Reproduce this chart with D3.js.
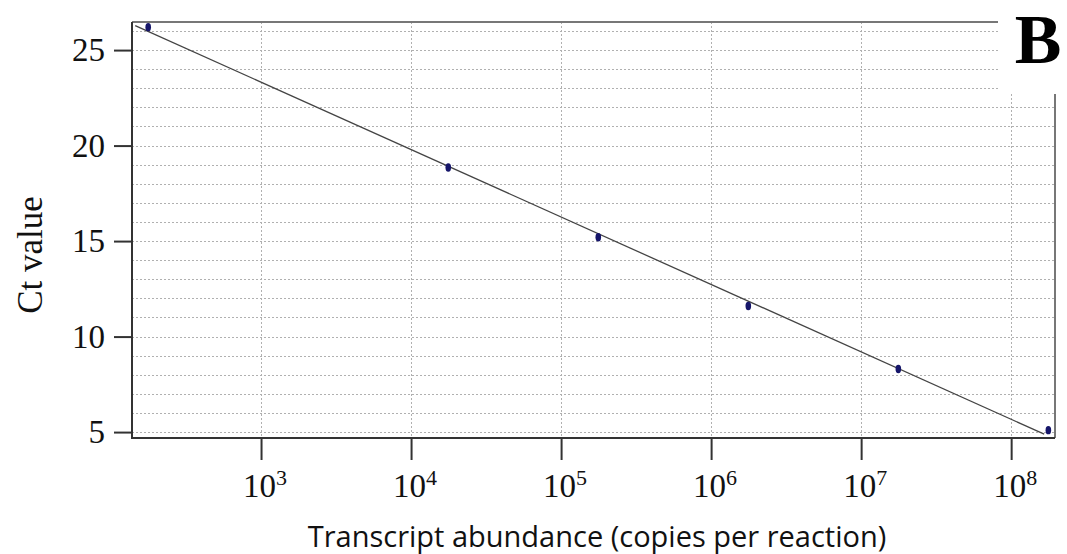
<!DOCTYPE html>
<html>

<head>
    <meta charset="utf-8">
    <title>Standard curve</title>
    <script src="https://d3js.org/d3.v7.min.js"></script>
    <style>
        body { margin: 0; background: #fff; }
    </style>
</head>

<body>
    <script>
        // data
        const copies = [177, 17700, 177000, 1770000, 17700000, 177000000];
        const ctValues = [26.2, 18.85, 15.2, 11.6, 8.3, 5.1];
        const xTicks = [1e3, 1e4, 1e5, 1e6, 1e7, 1e8];
        const yTicks = [5, 10, 15, 20, 25];
        const yGrid = d3.range(5, 27);
        const fitRange = [145, 166000000];

        const msm = {
            width: 1067,
            height: 554,
            left: 132,
            right: 1055,
            top: 22,
            bottom: 438
        }

        let svg = d3.select('body')
            .append('svg')
            .attr('width', msm.width)
            .attr('height', msm.height)

        let x = d3.scaleLog()
            .domain([138, 196000000])
            .range([msm.left, msm.right]);

        let y = d3.scaleLinear()
            .domain([4.69, 26.47])
            .range([msm.bottom, msm.top]);

        // grid
        let grid = svg.append('g')
            .attr('stroke', '#b0b0b0')
            .attr('stroke-width', 1)
            .attr('stroke-dasharray', '2,2');

        grid.selectAll('.hg')
            .data(yGrid)
            .enter()
            .append('line')
            .attr('x1', msm.left)
            .attr('x2', msm.right)
            .attr('y1', d => Math.round(y(d)) + 0.5)
            .attr('y2', d => Math.round(y(d)) + 0.5);

        grid.selectAll('.vg')
            .data(xTicks)
            .enter()
            .append('line')
            .attr('y1', msm.top)
            .attr('y2', msm.bottom)
            .attr('x1', d => Math.round(x(d)) + 0.5)
            .attr('x2', d => Math.round(x(d)) + 0.5);

        // least squares fit on log10(copies)
        let lx = copies.map(d => Math.log10(d));
        let mx = d3.mean(lx), my = d3.mean(ctValues);
        let sxy = d3.sum(lx, (d, i) => (d - mx) * (ctValues[i] - my));
        let sxx = d3.sum(lx, d => (d - mx) * (d - mx));
        let slope = sxy / sxx;
        let intercept = my - slope * mx;

        svg.append('line')
            .attr('x1', x(fitRange[0]))
            .attr('x2', x(fitRange[1]))
            .attr('y1', y(intercept + slope * Math.log10(fitRange[0])))
            .attr('y2', y(intercept + slope * Math.log10(fitRange[1])))
            .attr('stroke', '#444')
            .attr('stroke-width', 1.3);

        // points
        svg.append('g')
            .selectAll('ellipse')
            .data(copies)
            .enter()
            .append('ellipse')
            .attr('cx', d => x(d))
            .attr('cy', (d, i) => y(ctValues[i]))
            .attr('rx', 2.8)
            .attr('ry', 4.2)
            .attr('fill', '#16166a');

        // frame
        svg.append('line')
            .attr('x1', msm.left).attr('x2', msm.right)
            .attr('y1', msm.top).attr('y2', msm.top)
            .attr('stroke', '#777').attr('stroke-width', 2);
        svg.append('line')
            .attr('x1', msm.right).attr('x2', msm.right)
            .attr('y1', msm.top).attr('y2', msm.bottom)
            .attr('stroke', '#777').attr('stroke-width', 2);

        // y axis
        let yAxis = svg.append('g')
            .attr('transform', 'translate(' + msm.left + ',0)')
            .call(d3.axisLeft(y).tickValues(yTicks).tickSize(18).tickPadding(9).tickSizeOuter(0));
        yAxis.select('.domain').attr('stroke', '#333').attr('stroke-width', 2)
            .attr('d', 'M0,' + msm.top + 'V' + (msm.bottom + 1));
        yAxis.selectAll('.tick line').attr('stroke', '#333').attr('stroke-width', 2);
        yAxis.selectAll('.tick text')
            .attr('font-family', '"Liberation Serif", "Times New Roman", serif')
            .attr('font-size', 33)
            .attr('fill', '#111');

        // x axis
        let xAxis = svg.append('g')
            .attr('transform', 'translate(0,' + msm.bottom + ')')
            .call(d3.axisBottom(x).tickValues(xTicks).tickSize(22).tickFormat('').tickSizeOuter(0));
        xAxis.select('.domain').attr('stroke', '#333').attr('stroke-width', 2)
            .attr('d', 'M' + (msm.left - 1) + ',0H' + msm.right);
        xAxis.selectAll('.tick line').attr('stroke', '#333').attr('stroke-width', 2);

        let xl = svg.append('g')
            .selectAll('text')
            .data(xTicks)
            .enter()
            .append('text')
            .attr('x', d => x(d) + 4)
            .attr('y', 497)
            .attr('text-anchor', 'middle')
            .attr('font-family', '"Liberation Serif", "Times New Roman", serif')
            .attr('font-size', 33)
            .attr('fill', '#111');
        xl.append('tspan').text('10');
        xl.append('tspan')
            .attr('font-size', 22)
            .attr('dy', -12)
            .text(d => Math.round(Math.log10(d)));

        // axis titles
        svg.append('text')
            .attr('transform', 'translate(42,255) rotate(-90)')
            .attr('text-anchor', 'middle')
            .attr('font-family', '"Liberation Serif", "Times New Roman", serif')
            .attr('font-size', 35)
            .attr('fill', '#111')
            .text('Ct value');

        svg.append('text')
            .attr('x', 597)
            .attr('y', 547)
            .attr('text-anchor', 'middle')
            .attr('font-family', '"Open Sans", sans-serif')
            .attr('font-size', 29)
            .attr('fill', '#111')
            .text('Transcript abundance (copies per reaction)');

        // panel letter with white backing
        svg.append('rect')
            .attr('x', 998)
            .attr('y', 0)
            .attr('width', 69)
            .attr('height', 94)
            .attr('fill', '#fff');

        svg.append('text')
            .attr('x', 1038)
            .attr('y', 63)
            .attr('text-anchor', 'middle')
            .attr('font-family', '"Liberation Serif", "Times New Roman", serif')
            .attr('font-weight', 'bold')
            .attr('font-size', 70)
            .attr('fill', '#000')
            .text('B');
    </script>
</body>
</html>
